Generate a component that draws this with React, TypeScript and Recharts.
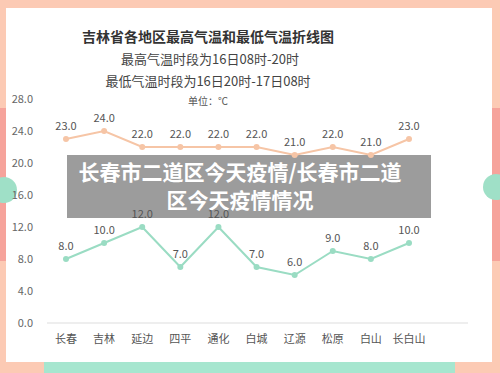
import { LineChart, Line, XAxis, YAxis, LabelList } from "recharts";

const cities = ["长春", "吉林", "延边", "四平", "通化", "白城", "辽源", "松原", "白山", "长白山"];
const highTemps = [23, 24, 22, 22, 22, 22, 21, 22, 21, 23];
const lowTemps = [8, 10, 12, 7, 12, 7, 6, 9, 8, 10];
const yTicks = [0, 4, 8, 12, 16, 20, 24, 28];

const title = "吉林省各地区最高气温和最低气温折线图";
const subHigh = "最高气温时段为16日08时-20时";
const subLow = "最低气温时段为16日20时-17日08时";
const unit = "单位：℃";
const banner = ["长春市二道区今天疫情/长春市二道", "区今天疫情情况"];

const FONT = '"Noto Sans CJK SC", "Noto Sans", sans-serif';
const HIGH = "#f6c5a6";
const LOW = "#9adcc3";

export default function App() {
  const data = cities.map((city, i) => ({ city, high: highTemps[i], low: lowTemps[i] }));
  const fmt = (v: number) => v.toFixed(1);

  return (
    <div style={{ position: "absolute", left: 0, top: 0, width: 500, height: 373, overflow: "hidden", background: "#fccab4", fontFamily: FONT }}>
      {/* side strips */}
      <div style={{ position: "absolute", left: 0, top: 108, width: 6, height: 153, background: "#f6a39b" }} />
      <div style={{ position: "absolute", left: 492, top: 108, width: 8, height: 153, background: "#f6a39b" }} />
      {/* card */}
      <div style={{ position: "absolute", left: 6, top: 8, width: 486, height: 354, background: "#ffffff" }} />
      <div style={{ position: "absolute", left: 44, top: 362, width: 411, height: 11, background: "#a6e6cf" }} />
      <div style={{ position: "absolute", left: -9, top: 177, width: 26, height: 26, borderRadius: "50%", background: "#9fe0c7" }} />
      <div style={{ position: "absolute", left: 483, top: 174, width: 26, height: 26, borderRadius: "50%", background: "#9fe0c7" }} />

      {/* titles */}
      <div style={{ position: "absolute", left: 0, top: 26, width: 416, textAlign: "center", fontSize: 14, fontWeight: 700, color: "#333", lineHeight: "20px" }}>{title}</div>
      <div style={{ position: "absolute", left: 0, top: 49, width: 420, textAlign: "center", fontSize: 13, color: "#444", lineHeight: "20px" }}>{subHigh}</div>
      <div style={{ position: "absolute", left: 0, top: 71, width: 416, textAlign: "center", fontSize: 13, color: "#444", lineHeight: "20px" }}>{subLow}</div>
      <div style={{ position: "absolute", left: 0, top: 94, width: 416, textAlign: "center", fontSize: 10, color: "#555", lineHeight: "14px" }}>{unit}</div>

      {/* overlay banner (labels sit on top of it) */}
      <div style={{ position: "absolute", left: 67, top: 155, width: 364, height: 63, background: "#9c9c9c" }} />
      <div style={{ position: "absolute", left: 67, top: 157, width: 346, textAlign: "center", color: "#fff", fontWeight: 700, fontSize: 21, lineHeight: "28px" }}>
        <div>{banner[0]}</div>
        <div>{banner[1]}</div>
      </div>

      <div style={{ position: "absolute", left: 0, top: 0 }}>
        <LineChart width={500} height={373} data={data} margin={{ top: 99, right: 32, bottom: 20, left: 7 }}>
          <XAxis
            dataKey="city"
            height={30}
            padding={{ left: 19, right: 59 }}
            axisLine={{ stroke: "#dddddd" }}
            tickLine={false}
            tickSize={0}
            tickMargin={12}
            interval={0}
            tick={{ fill: "#555", fontSize: 11, fontFamily: FONT }}
          />
          <YAxis
            width={40}
            domain={[0, 28]}
            ticks={yTicks}
            tickFormatter={fmt}
            axisLine={false}
            tickLine={false}
            tickSize={0}
            tickMargin={14}
            tick={{ fill: "#666", fontSize: 11, fontFamily: FONT }}
          />
          <Line
            dataKey="high"
            stroke={HIGH}
            strokeWidth={2}
            dot={{ r: 3, fill: HIGH, stroke: "none" }}
            isAnimationActive={false}
          >
            <LabelList dataKey="high" position="top" offset={9} formatter={fmt} fill="#555" fontSize={11} fontFamily={FONT} />
          </Line>
          <Line
            dataKey="low"
            stroke={LOW}
            strokeWidth={2}
            dot={{ r: 3, fill: LOW, stroke: "none" }}
            isAnimationActive={false}
          >
            <LabelList dataKey="low" position="top" offset={9} formatter={fmt} fill="#555" fontSize={11} fontFamily={FONT} />
          </Line>
        </LineChart>
      </div>
    </div>
  );
}
